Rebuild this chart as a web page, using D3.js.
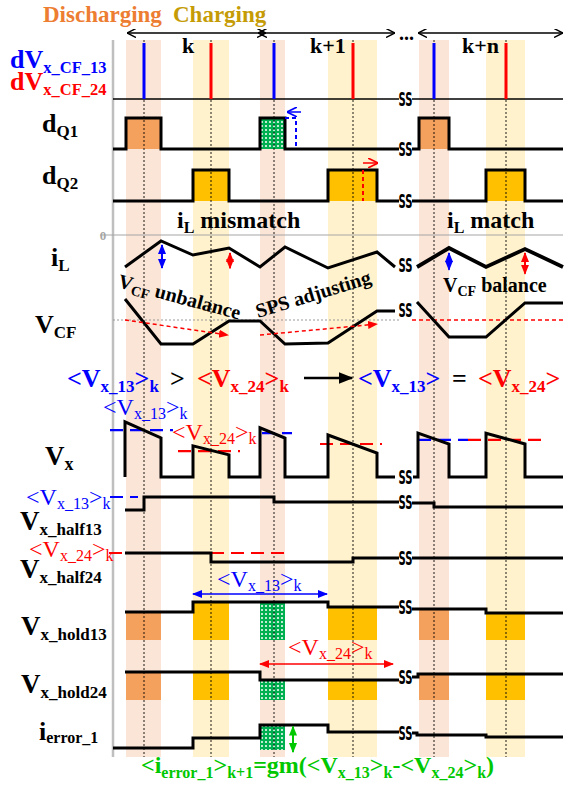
<!DOCTYPE html>
<html>
<head>
<meta charset="utf-8">
<script src="https://cdn.jsdelivr.net/npm/d3@7"></script>
<style>
  html, body { margin: 0; padding: 0; background: #fff; }
  svg { display: block; }
</style>
</head>
<body>
<div id="chart"></div>
<script>
// ---------- data (time units along the switching sequence) ----------
const bandT = [[13, 48], [80, 116], [147, 172], [215, 264], [306, 336], [373, 412]];
const bandKind = ["dis", "chg", "dis", "chg", "dis", "chg"];
const sampleT = [31, 98, 161, 240, 321, 393];
const sampleSide = ["13", "24", "13", "24", "13", "24"];
const periodT = [[14, 153], [145, 282], [305, 450]];
const periodLabels = ["k", "k+1", "k+n"];
const periodLabelT = [69, 197, 349];

const dQ1A = [[0, 0], [13, 0], [13, 1], [48, 1], [48, 0], [147, 0], [147, 1], [172, 1], [172, 0], [286, 0]];
const dQ1B = [[299, 0], [306, 0], [306, 1], [336, 1], [336, 0], [450, 0]];
const dQ2A = [[0, 0], [80, 0], [80, 1], [116, 1], [116, 0], [215, 0], [215, 1], [264, 1], [264, 0], [286, 0]];
const dQ2B = [[299, 0], [373, 0], [373, 1], [412, 1], [412, 0], [450, 0]];
const iLA = [[12, -0.8], [48, -0.15], [80, -0.5], [116, -0.325], [147, -0.8], [172, -0.3], [215, -0.825], [264, -0.425], [282, -0.8]];
const iLB = [[304, -0.8], [336, -0.325], [373, -0.8], [412, -0.35], [450, -0.8]];
const vcfA = [[12, 0.875], [48, -1], [80, -1], [116, -0.04], [147, -0.04], [172, -1], [215, -0.96], [264, 0.375], [282, 0.375]];
const vcfB = [[304, 0.75], [336, -0.71], [373, -0.71], [412, 0.71], [450, 0.71]];
const vxA = [[12, 0], [12, 0.92], [48, 0.65], [48, 0], [80, 0], [80, 0.52], [116, 0.37], [116, 0], [147, 0], [147, 0.82],
             [172, 0.65], [172, 0], [215, 0], [215, 0.7], [264, 0.4], [264, 0], [282, 0]];
const vxB = [[300, 0], [305, 0], [305, 0.73], [336, 0.55], [336, 0], [373, 0], [373, 0.73], [412, 0.55], [412, 0], [450, 0]];
const avg13T = [[-3, 60], [149, 179], [305, 355]];
const avg13V = [0.78, 0.73, 0.62];
const avg24T = [[65, 127], [207, 269], [355, 435]];
const avg24V = [0.43, 0.55, 0.62];
const half13A = [[12, 0.25], [31, 0.25], [31, 0.9], [161, 0.9], [161, 0.65], [286, 0.65]];
const half13B = [[299, 0.6], [321, 0.6], [321, 0.4], [450, 0.4]];
const half24A = [[12, 0.8], [98, 0.8], [98, 0.2], [240, 0.2], [240, 0.47], [286, 0.47]];
const half24B = [[299, 0.47], [450, 0.47]];
const hold13A = [[12, 0.7], [80, 0.7], [80, 0.95], [215, 0.95], [215, 0.825], [286, 0.825]];
const hold13B = [[299, 0.775], [373, 0.775], [373, 0.675], [450, 0.675]];
const hold24A = [[12, 0.7], [147, 0.7], [147, 0.5], [286, 0.5]];
const hold24B = [[299, 0.575], [305, 0.575], [305, 0.65], [450, 0.65]];
const errA = [[0, 0.067], [80, 0.067], [80, 0.4], [147, 0.4], [147, 0.833], [215, 0.833], [215, 0.6], [286, 0.6]];
const errB = [[299, 0.567], [304, 0.567], [304, 0.5], [373, 0.5], [373, 0.433], [450, 0.433]];

// ---------- layout ----------
const W = 564, H = 789;
const serif = "'Liberation Serif', 'Times New Roman', serif";
const BLUE = "#0000ff", RED = "#ff0000", GREEN = "#00c800";
const PEACH = "#fbe5d6", LYEL = "#fff2cc", ORANGE = "#f4a15d", YEL = "#ffc000";

const x = d3.scaleLinear().domain([0, 450]).range([113, 563]);
const yDV = d3.scaleLinear().domain([0, 1]).range([99, 43]);
const yQ1 = d3.scaleLinear().domain([0, 1]).range([149, 118]);
const yQ2 = d3.scaleLinear().domain([0, 1]).range([201, 170]);
const yIL = d3.scaleLinear().domain([0, -1]).range([235, 275]);
const yCF = d3.scaleLinear().domain([-1, 1]).range([344, 296]);
const yVX = d3.scaleLinear().domain([0, 1]).range([477, 417]);
const yH13 = d3.scaleLinear().domain([0, 1]).range([515, 495]);
const yH24 = d3.scaleLinear().domain([0, 1]).range([565, 550]);
const yD13 = d3.scaleLinear().domain([0, 1]).range([640, 600]);
const yD24 = d3.scaleLinear().domain([0, 1]).range([700, 660]);
const yER = d3.scaleLinear().domain([0, 1]).range([750, 720]);

const svg = d3.select("#chart").append("svg").attr("width", W).attr("height", H);
const defs = svg.append("defs");

const pat = defs.append("pattern").attr("id", "dots").attr("patternUnits", "userSpaceOnUse")
  .attr("width", 4).attr("height", 4);
pat.append("rect").attr("width", 4).attr("height", 4).attr("fill", "#00b050");
pat.append("circle").attr("cx", 2).attr("cy", 2).attr("r", 1).attr("fill", "#fff");

function marker(id, color, filled, size) {
  defs.append("marker").attr("id", id).attr("viewBox", "0 0 10 10")
    .attr("refX", filled ? 9 : 10).attr("refY", 5)
    .attr("markerUnits", "userSpaceOnUse")
    .attr("markerWidth", size).attr("markerHeight", size)
    .attr("orient", "auto-start-reverse")
    .append("path")
    .attr("d", filled ? "M0,1 L10,5 L0,9 Z" : "M0,0 L10,5 L0,10")
    .attr("fill", filled ? color : "none")
    .attr("stroke", color).attr("stroke-width", filled ? 0 : 1.6);
}
marker("oBlack", "#000", false, 9);
marker("oBlue", BLUE, false, 10);
marker("oRed", RED, false, 10);
marker("fBlack", "#000", true, 15);
marker("fBlue", BLUE, true, 10);
marker("fRed", RED, true, 10);
marker("fGreen", GREEN, true, 10);

const Y0 = 40, Y1 = 757;

// ---------- shaded sampling bands ----------
svg.append("g").selectAll("rect").data(bandT).join("rect")
  .attr("x", d => x(d[0])).attr("width", d => x(d[1]) - x(d[0]))
  .attr("y", Y0).attr("height", Y1 - Y0)
  .attr("fill", (d, i) => bandKind[i] === "dis" ? PEACH : LYEL);

// ---------- filled blocks ----------
function stepAt(pts, t) {
  let v = pts[0][1];
  pts.forEach(p => { if (p[0] <= t) v = p[1]; });
  return v;
}
const blocks = svg.append("g");
function blockFill(i) { return i === 2 ? "url(#dots)" : (bandKind[i] === "dis" ? ORANGE : YEL); }
function rowBlocks(y, A, B, which) {
  bandT.forEach((b, i) => {
    if (!which.includes(i)) return;
    const c = (b[0] + b[1]) / 2;
    const v = stepAt(c < 290 ? A : B, c);
    blocks.append("rect").attr("x", x(b[0])).attr("width", x(b[1]) - x(b[0]))
      .attr("y", y(v)).attr("height", y(0) - y(v)).attr("fill", blockFill(i));
  });
}
rowBlocks(yQ1, dQ1A, dQ1B, [0, 2, 4]);
rowBlocks(yQ2, dQ2A, dQ2B, [1, 3, 5]);
rowBlocks(yD13, hold13A, hold13B, [0, 1, 2, 3, 4, 5]);
rowBlocks(yD24, hold24A, hold24B, [0, 1, 2, 3, 4, 5]);
rowBlocks(yER, errA, errB, [2]);

// ---------- sampling dotted lines + axis ----------
svg.append("g").selectAll("line").data(sampleT).join("line")
  .attr("x1", d => x(d)).attr("x2", d => x(d)).attr("y1", Y0).attr("y2", Y1)
  .attr("stroke", "#000").attr("stroke-width", 0.9).attr("stroke-dasharray", "2,2");
svg.append("line").attr("x1", x(0)).attr("x2", x(0)).attr("y1", Y0).attr("y2", Y1)
  .attr("stroke", "#bfbfbf").attr("stroke-width", 2.5);

// zero of iL and VCF reference
svg.append("line").attr("x1", 100).attr("x2", x(450)).attr("y1", yIL(0)).attr("y2", yIL(0))
  .attr("stroke", "#a6a6a6").attr("stroke-width", 1.2);
svg.append("text").attr("x", 103).attr("y", yIL(0) + 5).attr("text-anchor", "middle")
  .attr("font-family", serif).attr("font-weight", "bold").attr("font-size", 13).attr("fill", "#a6a6a6").text("0");
svg.append("line").attr("x1", x(0)).attr("x2", x(286)).attr("y1", yCF(0)).attr("y2", yCF(0))
  .attr("stroke", "#999").attr("stroke-width", 1).attr("stroke-dasharray", "2,2");
svg.append("line").attr("x1", x(299)).attr("x2", x(450)).attr("y1", yCF(0)).attr("y2", yCF(0))
  .attr("stroke", RED).attr("stroke-width", 1.3).attr("stroke-dasharray", "4,3");

// ---------- dV sampling pulses ----------
svg.append("line").attr("x1", x(0)).attr("x2", x(286)).attr("y1", yDV(0)).attr("y2", yDV(0)).attr("stroke", "#000").attr("stroke-width", 1.3);
svg.append("line").attr("x1", x(299)).attr("x2", x(450)).attr("y1", yDV(0)).attr("y2", yDV(0)).attr("stroke", "#000").attr("stroke-width", 1.3);
svg.append("g").selectAll("line").data(sampleT).join("line")
  .attr("x1", d => x(d)).attr("x2", d => x(d)).attr("y1", yDV(0)).attr("y2", yDV(1))
  .attr("stroke", (d, i) => sampleSide[i] === "13" ? BLUE : RED).attr("stroke-width", 3);

// ---------- waveforms ----------
function wave(y, pts, w) {
  svg.append("path").attr("d", d3.line().x(d => x(d[0])).y(d => y(d[1]))(pts))
    .attr("fill", "none").attr("stroke", "#000").attr("stroke-width", w || 3)
    .attr("stroke-linejoin", "miter");
}
wave(yQ1, dQ1A); wave(yQ1, dQ1B);
wave(yQ2, dQ2A); wave(yQ2, dQ2B);
wave(yIL, iLA); wave(yIL, iLB, 3.8);
wave(yCF, vcfA); wave(yCF, vcfB);

// average dashes on Vx
function dash(y, t0, t1, v, color, w) {
  svg.append("line").attr("x1", x(t0)).attr("x2", x(t1)).attr("y1", y(v)).attr("y2", y(v))
    .attr("stroke", color).attr("stroke-width", w || 2).attr("stroke-dasharray", "13,7");
}
avg13T.forEach((d, i) => dash(yVX, d[0], d[1], avg13V[i], BLUE, 2.2));
avg24T.forEach((d, i) => dash(yVX, d[0], d[1], avg24V[i], RED, 2.2));
dash(yH13, -3, 25, 0.9, BLUE, 2);
dash(yH24, -4, 12, 0.8, RED, 2);
dash(yH24, 98, 178, 0.8, RED, 2);

wave(yVX, vxA); wave(yVX, vxB);
wave(yH13, half13A); wave(yH13, half13B);
wave(yH24, half24A); wave(yH24, half24B);
wave(yD13, hold13A); wave(yD13, hold13B);
wave(yD24, hold24A); wave(yD24, hold24B);
wave(yER, errA); wave(yER, errB);

// ---------- break marks ----------
const ssRows = [[yDV, 0], [yQ1, 0], [yQ2, 0], [yIL, -0.75], [yCF, 0.42], [yVX, 0], [yH13, 0.65], [yH24, 0.47], [yD13, 0.825], [yD24, 0.575], [yER, 0.567]];
svg.append("g").selectAll("text").data(ssRows).join("text")
  .attr("x", x(292.5)).attr("y", d => d[0](d[1]) + 7)
  .attr("text-anchor", "middle").attr("font-family", "'DejaVu Sans', sans-serif")
  .attr("font-weight", "bold").attr("font-size", 19).attr("textLength", 14).attr("lengthAdjust", "spacingAndGlyphs")
  .text("SS");

// ---------- arrows ----------
function arrow(x1, y1, x2, y2, color, w, mEnd, mStart, dashA) {
  const l = svg.append("line").attr("x1", x1).attr("y1", y1).attr("x2", x2).attr("y2", y2)
    .attr("stroke", color).attr("stroke-width", w);
  if (mEnd) l.attr("marker-end", `url(#${mEnd})`);
  if (mStart) l.attr("marker-start", `url(#${mStart})`);
  if (dashA) l.attr("stroke-dasharray", dashA);
  return l;
}
periodT.forEach(p => arrow(x(p[0]), 33, x(p[1]), 33, "#000", 1.5, "oBlack", "oBlack"));

// dQ1 / dQ2 adjustment hints
svg.append("path").attr("d", `M${x(172)},${yQ1(1)} H${x(183)} V${yQ1(0.1)}`)
  .attr("fill", "none").attr("stroke", BLUE).attr("stroke-width", 2).attr("stroke-dasharray", "4,3");
arrow(x(188), 112, x(174), 112, BLUE, 1.5, "oBlue");
arrow(x(250), yQ2(1), x(250), yQ2(0), RED, 2, null, null, "4,3");
arrow(x(250), 163, x(265), 163, RED, 1.5, "oRed");

// iL ripple arrows
const rip = [[49, -0.25, -0.825, BLUE], [117, -0.45, -0.83, RED], [336, -0.45, -0.87, BLUE], [412, -0.45, -0.97, RED]];
rip.forEach(r => arrow(x(r[0]), yIL(r[1]), x(r[0]), yIL(r[2]), r[3], 2, r[3] === BLUE ? "fBlue" : "fRed", r[3] === BLUE ? "fBlue" : "fRed"));

// VCF trend arrows
arrow(x(12), yCF(0), x(115), yCF(-0.625), RED, 1.5, "fRed", null, "4,3");
arrow(x(147), yCF(-0.625), x(264), yCF(-0.17), RED, 1.5, "fRed", null, "4,3");

// hold arrows
arrow(x(80), 594, x(214), 594, BLUE, 1.5, "fBlue", "fBlue");
arrow(x(147), 664, x(280), 664, RED, 1.5, "fRed", "fRed");
arrow(x(180), yER(0.78), x(180), yER(-0.07), GREEN, 2, "fGreen", "fGreen");

// big arrow in the comparison line
arrow(304, 378, 352, 378, "#000", 2.5, "fBlack");

// ---------- text ----------
function rich(xp, yp, parts, o) {
  const t = svg.append("text").attr("x", xp).attr("y", yp)
    .attr("font-family", serif).attr("font-weight", o.bold === false ? "normal" : "bold")
    .attr("fill", o.color || "#000");
  if (o.rotate) t.attr("transform", `rotate(${o.rotate},${xp},${yp})`);
  let shift = 0;
  parts.forEach(([s, kind]) => {
    const target = kind === "sub" ? (o.dy || 5) : 0;
    const ts = t.append("tspan").attr("font-size", kind === "sub" ? o.sub : o.main).text(s);
    if (target - shift !== 0) ts.attr("dy", target - shift);
    shift = target;
  });
  return t;
}

svg.append("text").attr("x", 43).attr("y", 22).attr("font-family", serif).attr("font-weight", "bold")
  .attr("font-size", 23).attr("fill", "#ed7d31").text("Discharging");
svg.append("text").attr("x", 173).attr("y", 22).attr("font-family", serif).attr("font-weight", "bold")
  .attr("font-size", 23).attr("fill", "#c59b06").text("Charging");

periodLabels.forEach((s, i) => {
  svg.append("text").attr("x", x(periodLabelT[i])).attr("y", 53).attr("font-family", serif)
    .attr("font-weight", "bold").attr("font-size", 22).text(s);
});
svg.append("text").attr("x", 399).attr("y", 40).attr("font-family", serif).attr("font-weight", "bold")
  .attr("font-size", 20).text("...");

rich(10, 68, [["dV", "m"], ["x_CF_13", "sub"]], { main: 26, sub: 16.5, color: BLUE });
rich(10, 90, [["dV", "m"], ["x_CF_24", "sub"]], { main: 26, sub: 16.5, color: RED });
rich(42, 132, [["d", "m"], ["Q1", "sub"]], { main: 26, sub: 17 });
rich(42, 184, [["d", "m"], ["Q2", "sub"]], { main: 26, sub: 17 });
rich(51, 266, [["i", "m"], ["L", "sub"]], { main: 26, sub: 17 });
rich(35, 333, [["V", "m"], ["CF", "sub"]], { main: 26, sub: 17 });
rich(45, 465, [["V", "m"], ["x", "sub"]], { main: 27, sub: 18 });
rich(20, 530, [["V", "m"], ["x_half13", "sub"]], { main: 27, sub: 17 });
rich(20, 578, [["V", "m"], ["x_half24", "sub"]], { main: 27, sub: 17 });
rich(21, 635, [["V", "m"], ["x_hold13", "sub"]], { main: 27, sub: 17 });
rich(21, 693, [["V", "m"], ["x_hold24", "sub"]], { main: 27, sub: 17 });
rich(39, 740, [["i", "m"], ["error_1", "sub"]], { main: 26, sub: 16, dy: 3 });

rich(177, 228, [["i", "m"], ["L", "sub"], [" mismatch", "m"]], { main: 24, sub: 16 });
rich(447, 228, [["i", "m"], ["L", "sub"], [" match", "m"]], { main: 24, sub: 16 });
rich(117, 287, [["V", "m"], ["CF", "sub"], [" unbalance", "m"]], { main: 20, sub: 14, rotate: 15, dy: 4 });
rich(258, 318, [["SPS adjusting", "m"]], { main: 20, sub: 14, rotate: -17 });
rich(443, 292, [["V", "m"], ["CF", "sub"], [" balance", "m"]], { main: 20, sub: 14, dy: 4 });

// comparison line
rich(67, 387, [["<V", "m"], ["x_13", "sub"], [">", "m"], ["k", "sub"]], { main: 26, sub: 17, color: BLUE });
rich(170, 387, [[">", "m"]], { main: 26, sub: 17 });
rich(197, 387, [["<V", "m"], ["x_24", "sub"], [">", "m"], ["k", "sub"]], { main: 26, sub: 17, color: RED });
rich(358, 387, [["<V", "m"], ["x_13", "sub"], [">", "m"]], { main: 26, sub: 17, color: BLUE });
rich(452, 387, [["=", "m"]], { main: 26, sub: 17 });
rich(478, 387, [["<V", "m"], ["x_24", "sub"], [">", "m"]], { main: 26, sub: 17, color: RED });

// thin annotation labels
const thin = { main: 24, sub: 16, bold: false, dy: 4 };
rich(103, 415, [["<V", "m"], ["x_13", "sub"], [">", "m"], ["k", "sub"]], Object.assign({}, thin, { color: BLUE }));
rich(172, 440, [["<V", "m"], ["x_24", "sub"], [">", "m"], ["k", "sub"]], Object.assign({}, thin, { color: RED }));
rich(26, 505, [["<V", "m"], ["x_13", "sub"], [">", "m"], ["k", "sub"]], Object.assign({}, thin, { color: BLUE }));
rich(29, 557, [["<V", "m"], ["x_24", "sub"], [">", "m"], ["k", "sub"]], Object.assign({}, thin, { color: RED }));
rich(217, 587, [["<V", "m"], ["x_13", "sub"], [">", "m"], ["k", "sub"]], Object.assign({}, thin, { color: BLUE }));
rich(288, 655, [["<V", "m"], ["x_24", "sub"], [">", "m"], ["k", "sub"]], Object.assign({}, thin, { color: RED }));

// bottom equation
rich(141, 773, [["<i", "m"], ["error_1", "sub"], [">", "m"], ["k+1", "sub"], ["=gm(<V", "m"], ["x_13", "sub"],
  [">", "m"], ["k", "sub"], ["-<V", "m"], ["x_24", "sub"], [">", "m"], ["k", "sub"], [")", "m"]],
  { main: 24, sub: 16, color: GREEN });
</script>
</body>
</html>
